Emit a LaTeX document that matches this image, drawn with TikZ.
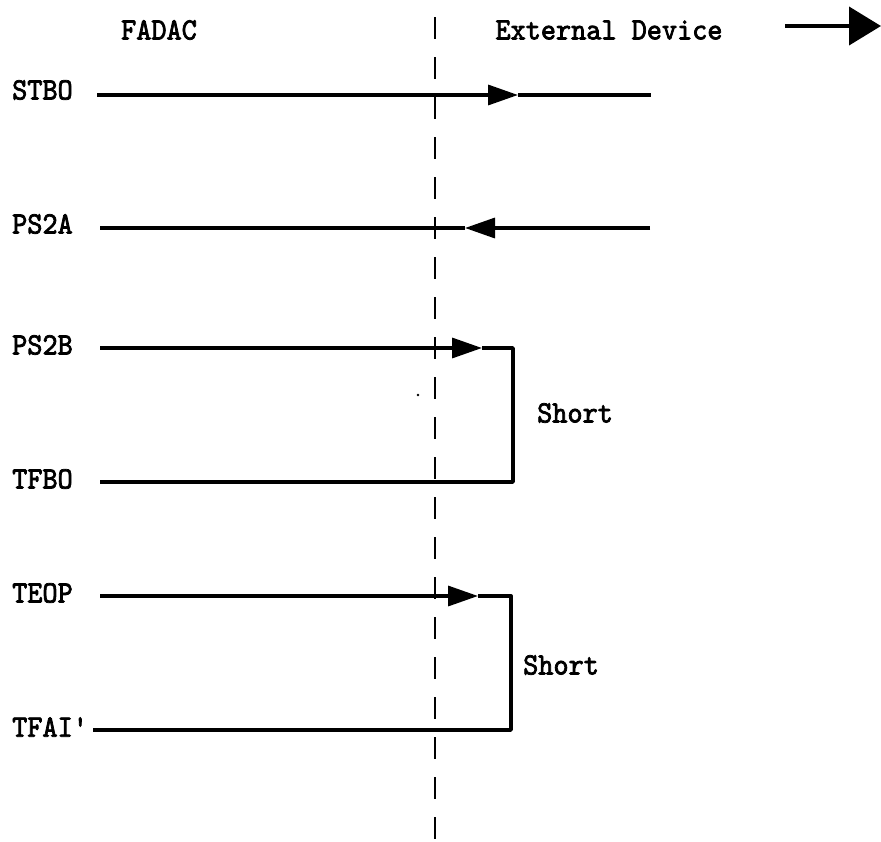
\documentclass[tikz,border=0pt]{standalone}
\usepackage{fontspec}
\usepackage{tikz}
\usetikzlibrary{arrows.meta}
\newfontfamily\typer[Extension=.otf,FakeBold=2.4,FakeStretch=0.93]{lmmono10-regular}

\begin{document}
\begin{tikzpicture}[x=1pt,y=-1pt,
  lbl/.style={font=\fontsize{31}{33}\selectfont\typer,inner sep=0pt},
  wire/.style={line width=3.4pt},
  tip/.style={-{Triangle[length=30pt,width=20pt]}},
  bus/.style={line width=2.6pt,dash pattern=on 22pt off 18pt}]
\useasboundingbox (0,0) rectangle (881,841);

% --- headings ---------------------------------------------------------
\node[lbl] (fadac) at (159,30) {FADAC};
\node[lbl] (ext) at (609,30) {External Device};
\coordinate (dir0) at (785,26);
\coordinate (dir1) at (881,26);
\draw[line width=4pt,-{Triangle[length=32pt,width=38pt]}] (dir0) -- (dir1);

% --- interface boundary -----------------------------------------------
\coordinate (bnd0) at (435,17);
\coordinate (bnd1) at (435,841);
\draw[bus] (bnd0) -- (bnd1);
\fill (418,395) circle (1.4pt);

% --- STBO -------------------------------------------------------------
\node[lbl,anchor=west] (stbo) at (12,90) {STBO};
\coordinate (stbo0) at (97,95);
\coordinate (stbo1) at (518,95);
\coordinate (stbo2) at (651,95);
\draw[wire,tip] (stbo0) -- (stbo1);
\draw[wire] (stbo1) -- (stbo2);

% --- PS2A -------------------------------------------------------------
\node[lbl,anchor=west] (ps2a) at (12,224) {PS2A};
\coordinate (ps2a0) at (100,228);
\coordinate (ps2a1) at (465,228);
\coordinate (ps2a2) at (650,228);
\draw[wire,tip] (ps2a2) -- (ps2a1);
\draw[wire] (ps2a1) -- (ps2a0);

% --- PS2B / TFBO loop -------------------------------------------------
\node[lbl,anchor=west] (ps2b) at (12,345) {PS2B};
\node[lbl,anchor=west] (tfbo) at (12,479) {TFBO};
\coordinate (ps2b0) at (100,348);
\coordinate (ps2b1) at (482,348);
\coordinate (tfbo0) at (100,482);
\draw[wire,tip] (ps2b0) -- (ps2b1);
\draw[wire,line join=round] (ps2b1) -- (513,348) -- (513,482) -- (tfbo0);
\node[lbl,anchor=west] (short1) at (537,413) {Short};

% --- TEOP / TFAI' loop ------------------------------------------------
\node[lbl,anchor=west] (teop) at (12,593) {TEOP};
\node[lbl,anchor=west] (tfai) at (12,727) {TFAI'};
\coordinate (teop0) at (100,596);
\coordinate (teop1) at (478,596);
\coordinate (tfai0) at (93,730);
\draw[wire,tip] (teop0) -- (teop1);
\draw[wire,line join=round] (teop1) -- (511,596) -- (511,730) -- (tfai0);
\node[lbl,anchor=west] (short2) at (523,665) {Short};
\end{tikzpicture}
\end{document}
